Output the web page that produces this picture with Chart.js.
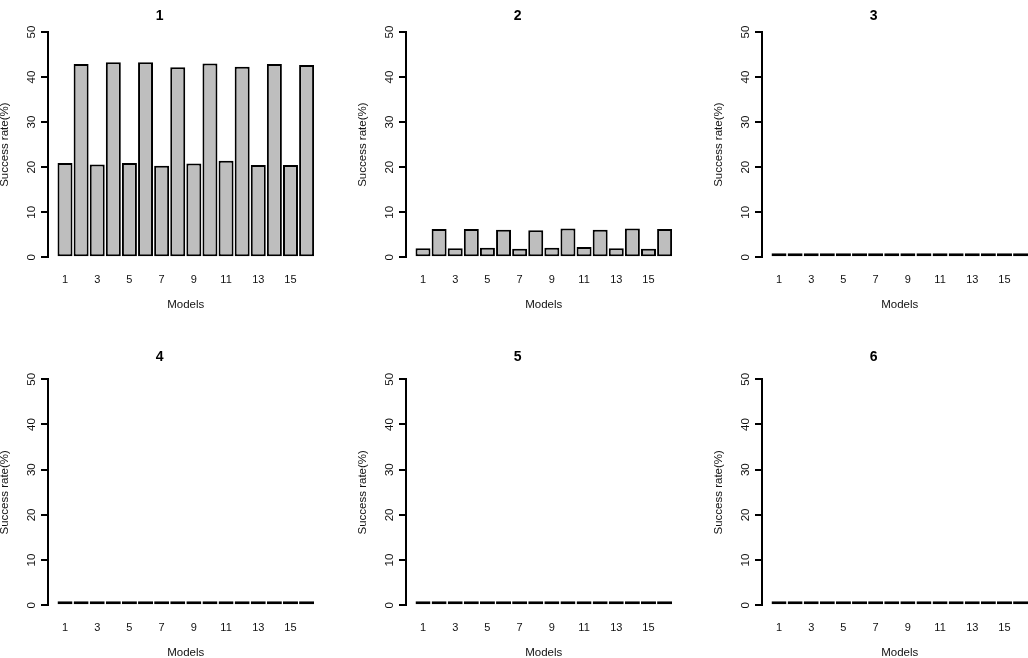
<!DOCTYPE html>
<html>
<head>
<meta charset="utf-8">
<script src="https://cdn.jsdelivr.net/npm/chart.js@4.4.1/dist/chart.umd.min.js"></script>
<style>
    html, body { margin: 0; padding: 0; background: #fff; }
    body { width: 1028px; height: 658px; position: relative; overflow: hidden; }
    canvas { position: absolute; }
</style>
</head>
<body>
<canvas id="panel1"></canvas>
<canvas id="panel2"></canvas>
<canvas id="panel3"></canvas>
<canvas id="panel4"></canvas>
<canvas id="panel5"></canvas>
<canvas id="panel6"></canvas>
<script>
// data
const models = [1, 2, 3, 4, 5, 6, 7, 8, 9, 10, 11, 12, 13, 14, 15, 16];
const shownModels = [1, 3, 5, 7, 9, 11, 13, 15];
const rateTicks = [0, 10, 20, 30, 40, 50];
const panelTitles = ['1', '2', '3', '4', '5', '6'];

const rate1 = [20.9, 42.9, 20.6, 43.3, 20.9, 43.3, 20.3, 42.2, 20.8, 43.0, 21.4, 42.3, 20.5, 42.9, 20.5, 42.7];
const rate2 = [2.0, 6.3, 2.0, 6.3, 2.1, 6.1, 1.9, 6.0, 2.1, 6.4, 2.3, 6.1, 2.0, 6.4, 1.9, 6.3];
const rate3 = [0.1, 0.3, 0.1, 0.3, 0.1, 0.3, 0.1, 0.3, 0.1, 0.3, 0.1, 0.3, 0.1, 0.3, 0.1, 0.3];
const rate4 = [0, 0, 0, 0, 0, 0, 0, 0, 0, 0, 0, 0, 0, 0, 0, 0];
const rate5 = [0, 0, 0, 0, 0, 0, 0, 0, 0, 0, 0, 0, 0, 0, 0, 0];
const rate6 = [0, 0, 0, 0, 0, 0, 0, 0, 0, 0, 0, 0, 0, 0, 0, 0];

const FONT = '"Liberation Sans", Arial, Helvetica, sans-serif';
const CANVAS_W = 357, CANVAS_H = 330;
const AXIS_W = 52;

// layout of the 2x3 grid
const colLeft = [-4, 354, 710];
const rows = [
    { top: 0,   chartTop: 32,   chartBottom: 257.3, titleY: 16.3, labelY: 305 },
    { top: 340, chartTop: 39.3, chartBottom: 265.3, titleY: 17.2, labelY: 313 }
];

const panels = [
    { id: '#panel1', values: rate1 },
    { id: '#panel2', values: rate2 },
    { id: '#panel3', values: rate3 },
    { id: '#panel4', values: rate4 },
    { id: '#panel5', values: rate5 },
    { id: '#panel6', values: rate6 }
];

panels.forEach((p, i) => {
    const row = rows[Math.floor(i / 3)];
    const canvas = document.querySelector(p.id);
    canvas.width = CANVAS_W;
    canvas.height = CANVAS_H;
    canvas.style.left = colLeft[i % 3] + 'px';
    canvas.style.top = row.top + 'px';
    renderPanel(canvas, panelTitles[i], p.values, row);
});

function renderPanel(canvas, title, values, row) {
    const xScaleH = CANVAS_H - row.chartBottom;

    new Chart(canvas.getContext('2d'), {
        type: 'bar',
        data: {
            labels: models,
            datasets: [{
                data: values,
                backgroundColor: '#bebebe',
                borderColor: '#000',
                borderWidth: 2,
                borderSkipped: false,
                barPercentage: 0.93,
                categoryPercentage: 1,
                minBarLength: 4
            }]
        },
        options: {
            responsive: false,
            devicePixelRatio: 1,
            animation: false,
            layout: { padding: { left: 0, right: CANVAS_W - AXIS_W - 275.5, top: 0, bottom: 0 } },
            plugins: {
                legend: { display: false },
                tooltip: { enabled: false },
                title: {
                    display: true,
                    text: title,
                    color: '#000',
                    font: { family: FONT, size: 14, weight: 'bold', lineHeight: 1.2 },
                    padding: { top: row.titleY - 8.4, bottom: row.chartTop - row.titleY - 8.4 }
                }
            },
            scales: {
                x: {
                    type: 'linear',
                    min: -0.056,
                    max: 17.05,
                    offset: false,
                    grid: { display: false, drawTicks: false },
                    border: { display: false },
                    ticks: {
                        color: '#111',
                        font: { family: FONT, size: 11 },
                        padding: 15.6,
                        maxRotation: 0,
                        autoSkip: false
                    },
                    afterBuildTicks: scale => {
                        scale.ticks = shownModels.map(v => ({ value: v }));
                    },
                    afterFit: scale => { scale.height = xScaleH; },
                    title: {
                        display: true,
                        text: 'Models',
                        color: '#111',
                        font: { family: FONT, size: 11.5 },
                        padding: { top: 0, bottom: CANVAS_H - 6.9 - row.labelY }
                    }
                },
                y: {
                    min: 0,
                    max: 50,
                    grid: {
                        display: true,
                        drawOnChartArea: false,
                        drawTicks: true,
                        tickLength: 7,
                        color: '#000',
                        lineWidth: 2
                    },
                    border: { display: true, color: '#000', width: 2 },
                    ticks: {
                        color: '#111',
                        font: { family: FONT, size: 11.5 },
                        minRotation: 90,
                        maxRotation: 90,
                        crossAlign: 'center',
                        padding: 3
                    },
                    afterBuildTicks: scale => {
                        scale.ticks = rateTicks.map(v => ({ value: v }));
                    },
                    afterFit: scale => { scale.width = AXIS_W; },
                    title: {
                        display: true,
                        text: 'Success rate(%)',
                        color: '#111',
                        font: { family: FONT, size: 11.5 },
                        padding: { top: 1.5, bottom: 0 }
                    }
                }
            }
        }
    });
}
</script>
</body>
</html>
